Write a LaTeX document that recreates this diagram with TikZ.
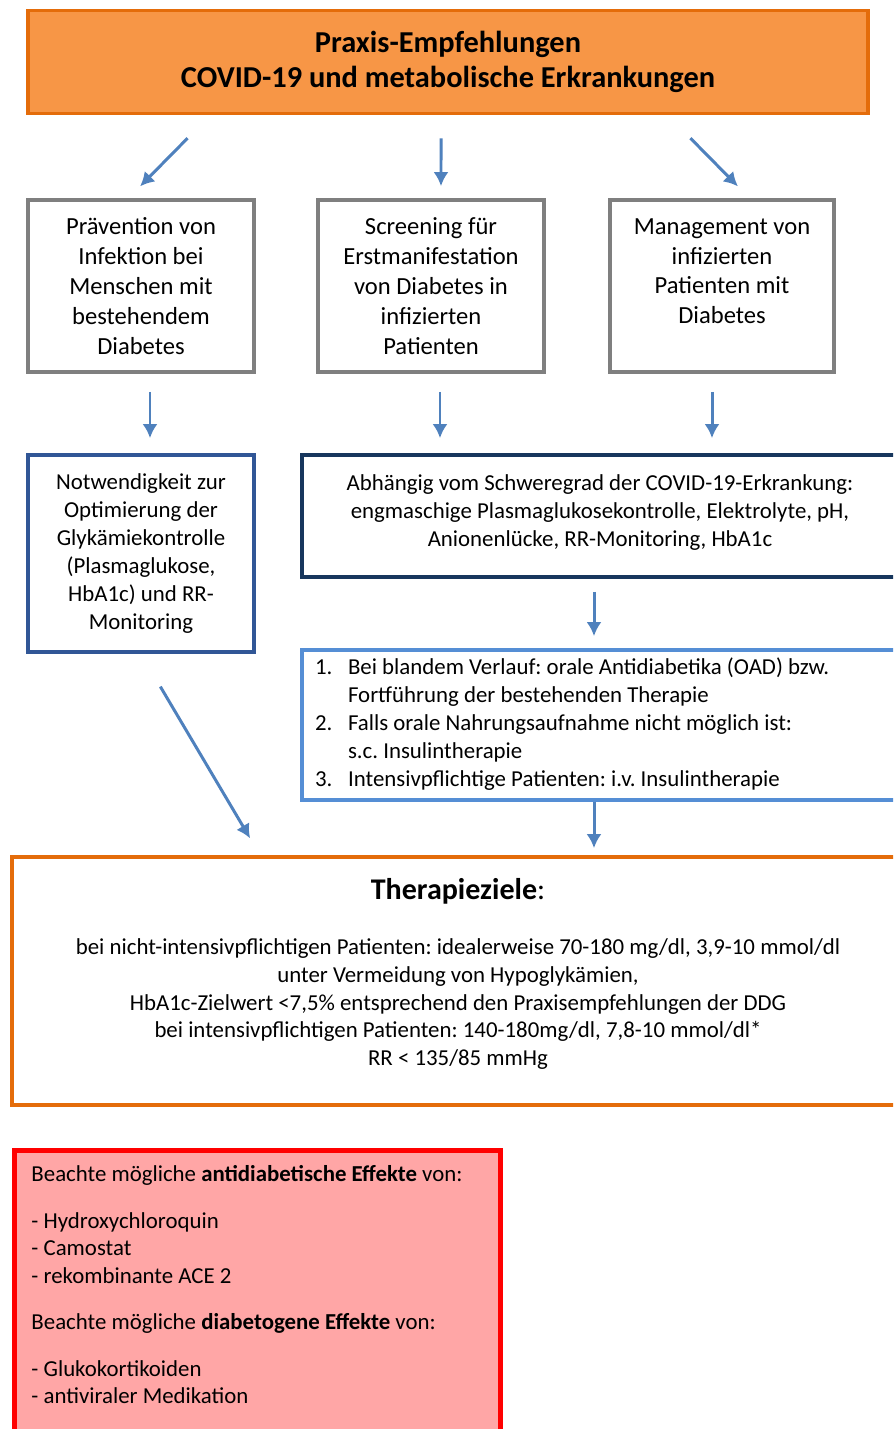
\documentclass[tikz,border=0pt]{standalone}
\usepackage{fontspec}
\setmainfont{Carlito}
\usetikzlibrary{positioning,arrows.meta,calc}
\frenchspacing
\definecolor{headclr}{RGB}{247,150,70}
\definecolor{headedge}{RGB}{228,108,10}
\definecolor{arrclr}{RGB}{79,129,189}
\definecolor{grayedge}{RGB}{127,127,127}
\definecolor{midblue}{RGB}{49,86,150}
\definecolor{navyclr}{RGB}{23,54,93}
\definecolor{lightblue}{RGB}{85,142,213}
\definecolor{alertclr}{RGB}{255,0,0}
\tikzset{
    box/.style={rectangle,draw,line width=2.2pt,fill=white,align=center,inner sep=0pt,font=\fontsize{13}{15.9}\selectfont},
    topic/.style={box,draw=grayedge,minimum width=4.52cm,minimum height=3.44cm,font=\fontsize{14}{17}\selectfont},
    arr/.style={-{Latex[length=2.8mm,width=3mm]},draw=arrclr,line width=1.7pt},
}

\begin{document}
\begin{tikzpicture}[x=0.02cm,y=-0.02cm]
\clip (0,0) rectangle (893,1429);
\fill[white] (0,0) rectangle (893,1429);
% header
\node[box,draw=headedge,fill=headclr,minimum width=16.8cm,minimum height=2.06cm,font=\bfseries\fontsize{17.3}{19.8}\selectfont] (title) at (448,62) {Praxis-Empfehlungen\\COVID-19 und metabolische Erkrankungen};
% three topics
\node[topic] (prev) at (141,286) {Prävention von\\Infektion bei\\Menschen mit\\bestehendem\\Diabetes};
\node[topic] (screen) at (431,286) {Screening für\\Erstmanifestation\\von Diabetes in\\infizierten\\Patienten};
\node[topic,minimum width=4.48cm] (manage) at (722,286) {Management von\\infizierten\\Patienten mit\\Diabetes\\\mbox{}};
% second row
\node[box,draw=midblue,minimum width=4.52cm,minimum height=3.94cm] (optim) at (141,553.5) {Notwendigkeit zur\\Optimierung der\\Glykämiekontrolle\\(Plasmaglukose,\\HbA1c) und RR-\\Monitoring};
\node[box,draw=navyclr,minimum width=11.92cm,minimum height=2.44cm] (sever) at (600,516) {Abhängig vom Schweregrad der COVID-19-Erkrankung:\\engmaschige Plasmaglukosekontrolle, Elektrolyte, pH,\\Anionenlücke, RR-Monitoring, HbA1c\\[-10pt]\mbox{}};
\node[box,draw=lightblue,minimum width=11.92cm,minimum height=3cm] (ther) at (600,725) {%
  \begin{tabular}{@{}p{0.66cm}@{}p{10.74cm}@{}}
  1. & Bei blandem Verlauf: orale Antidiabetika (OAD) bzw.\\
     & Fortführung der bestehenden Therapie\\
  2. & Falls orale Nahrungsaufnahme nicht möglich ist:\\
     & s.c. Insulintherapie\\
  3. & Intensivpflichtige Patienten: i.v. Insulintherapie
  \end{tabular}};
% goals
\node[box,draw=headedge,minimum width=17.84cm,minimum height=4.96cm] (goal) at (458,981) {{\bfseries\fontsize{17.1}{19}\selectfont Therapieziele}{\fontsize{17.1}{19}\selectfont:}\\[15pt]
  bei nicht-intensivpflichtigen Patienten: idealerweise 70-180 mg/dl, 3,9-10 mmol/dl\\
  unter Vermeidung von Hypoglykämien,\\
  HbA1c-Zielwert <7,5\% entsprechend den Praxisempfehlungen der DDG\\
  bei intensivpflichtigen Patienten: 140-180mg/dl, 7,8-10 mmol/dl*\\
  RR < 135/85 mmHg\\[-6pt]\mbox{}};
% side effects
\node[box,draw=alertclr,fill=alertclr!35,line width=2.8pt,anchor=north west,align=left,inner xsep=0.34cm,inner ysep=0.3cm,font=\fontsize{13}{15.6}\selectfont] (alert) at (12,1148) {%
  \parbox[t][6cm][t]{9.04cm}{\raggedright
  Beachte mögliche \textbf{antidiabetische Effekte} von:\\[11pt]
  - Hydroxychloroquin\\
  - Camostat\\
  - rekombinante ACE 2\\[11pt]
  Beachte mögliche \textbf{diabetogene Effekte} von:\\[11pt]
  - Glukokortikoiden\\
  - antiviraler Medikation}};
% connectors
\draw[arr,shorten <=0.64cm,shorten >=0.33cm] ([xshift=-4.76cm]title.south) -- ([xshift=-0.25cm]prev.north);
\draw[arr,shorten <=0.46cm,shorten >=0.24cm] ([xshift=-0.14cm]title.south) -- ([xshift=0.2cm]screen.north);
\draw[arr,shorten <=0.64cm,shorten >=0.33cm] ([xshift=4.4cm]title.south) -- ([xshift=0.55cm]manage.north);
\draw[arr,shorten <=0.36cm,shorten >=0.3cm] ([xshift=0.18cm]prev.south) -- ([xshift=0.18cm]optim.north);
\draw[arr,shorten <=0.36cm,shorten >=0.3cm] ([xshift=0.18cm]screen.south) -- ([xshift=0.18cm]screen.south |- sever.north);
\draw[arr,shorten <=0.36cm,shorten >=0.3cm] ([xshift=-0.2cm]manage.south) -- ([xshift=-0.2cm]manage.south |- sever.north);
\draw[arr,shorten <=0.26cm,shorten >=0.24cm] ([xshift=-0.12cm]sever.south) -- ([xshift=-0.12cm]ther.north);
\draw[arr,shorten >=0.14cm] ([xshift=-0.12cm]ther.south) -- ([xshift=-0.12cm]ther.south |- goal.north);
\draw[arr,shorten <=0.76cm,shorten >=0.39cm] (optim.south) -- ([xshift=-3.96cm]goal.north);
\end{tikzpicture}
\end{document}
